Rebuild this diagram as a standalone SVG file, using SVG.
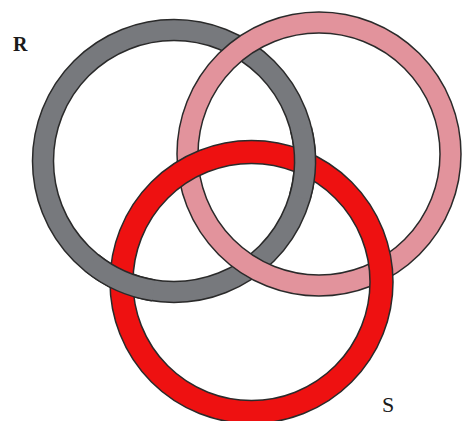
<svg xmlns="http://www.w3.org/2000/svg" width="462" height="421" viewBox="0 0 462 421">
  <style>
    .edge { fill: none; stroke: #2a2a2a; stroke-width: 1.5; }
    .gray { fill: none; stroke: #77797d; stroke-width: 21; }
    .pink { fill: none; stroke: #e2939c; stroke-width: 21; }
    .red { fill: none; stroke: #ee1111; stroke-width: 23; }
    .lbl { font-family: "Liberation Serif", "Times New Roman", serif; fill: #1a1a1a; }
  </style>
  <rect width="462" height="421" fill="#ffffff"/>
  <g id="ring-R">
    <circle class="gray" cx="174" cy="161" r="131"/>
    <circle class="edge" cx="174" cy="161" r="141.5"/>
    <circle class="edge" cx="174" cy="161" r="120.5"/>
  </g>
  <g id="ring-P">
    <circle class="pink" cx="319" cy="154" r="131.5"/>
    <circle class="edge" cx="319" cy="154" r="142"/>
    <circle class="edge" cx="319" cy="154" r="121"/>
  </g>
  <g id="ring-S">
    <circle class="red" cx="251.5" cy="282" r="130"/>
    <circle class="edge" cx="251.5" cy="282" r="141.5"/>
    <circle class="edge" cx="251.5" cy="282" r="118.5"/>
  </g>
  <g id="ring-R-over">
    <path class="gray" d="M301.11,129.31 A131,131 0 0 1 299.93,197.10"/>
    <path class="edge" d="M311.30,126.77 A141.5,141.5 0 0 1 310.02,200.00"/>
    <path class="edge" d="M290.92,131.85 A120.5,120.5 0 0 1 289.83,194.21"/>
    <path class="gray" d="M153.51,290.39 A131,131 0 0 1 91.56,262.80"/>
    <path class="edge" d="M151.87,300.76 A141.5,141.5 0 0 1 84.95,270.96"/>
    <path class="edge" d="M155.15,280.02 A120.5,120.5 0 0 1 98.17,254.64"/>
  </g>
  <text class="lbl" x="13" y="51" font-size="20" font-weight="bold">R</text>
  <text class="lbl" x="382" y="412" font-size="22">S</text>
</svg>
